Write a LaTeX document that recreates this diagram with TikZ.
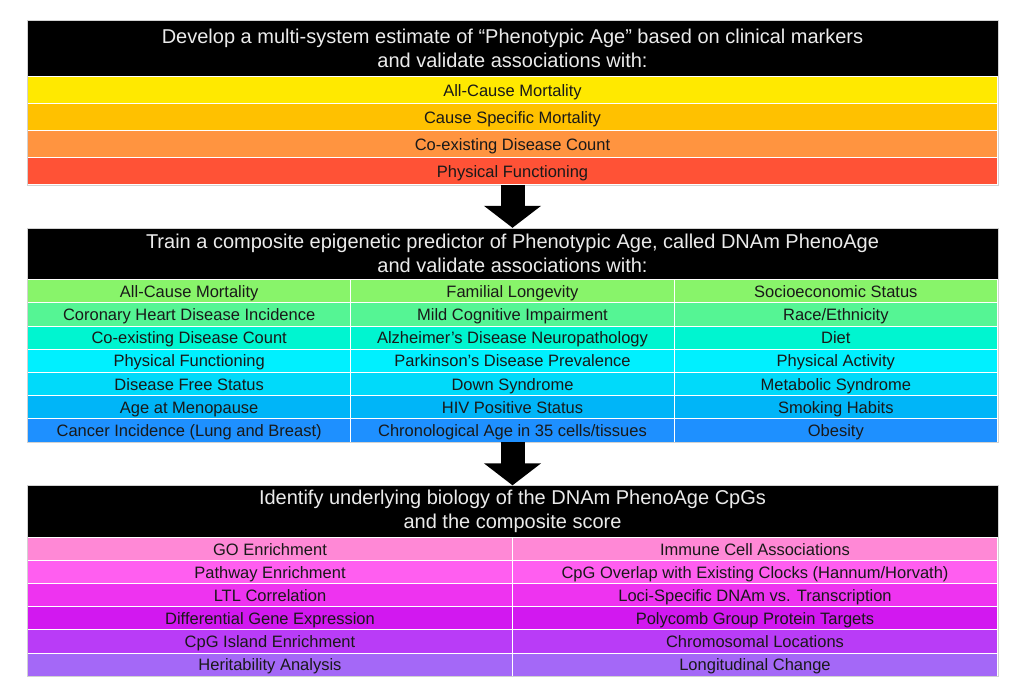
\documentclass[tikz,border=0pt]{standalone}
\usepackage{fontspec}
\setmainfont{Liberation Sans}
\usetikzlibrary{arrows.meta}

\definecolor{aYellow}{HTML}{FFE900}
\definecolor{aAmber}{HTML}{FFC100}
\definecolor{aOrange}{HTML}{FF9440}
\definecolor{aRed}{HTML}{FF5236}
\definecolor{bGreen}{HTML}{88F46A}
\definecolor{bMint}{HTML}{55F594}
\definecolor{bAqua}{HTML}{00F5D0}
\definecolor{bCyan}{HTML}{00F0FF}
\definecolor{bSky}{HTML}{00DAFA}
\definecolor{bAzure}{HTML}{00B5F8}
\definecolor{bBlue}{HTML}{1E90FF}
\definecolor{cPink}{HTML}{FF88D6}
\definecolor{cRose}{HTML}{FF5EF0}
\definecolor{cMagenta}{HTML}{EE33F0}
\definecolor{cPurple}{HTML}{D218F0}
\definecolor{cViolet}{HTML}{B93CF7}
\definecolor{cLilac}{HTML}{A468F7}

\tikzset{
  header/.style={fill=black,text=white!92!black,align=center,inner sep=0pt,
    minimum width=970pt,font=\fontsize{20}{24}\selectfont},
  cell/.style={draw=white,line width=0.7pt,inner sep=0pt,text=black!90,
    text height=14pt,text depth=1.5pt,font=\fontsize{16.5}{18}\selectfont},
  wide/.style={cell,minimum width=970pt,minimum height=27pt},
  third/.style={cell,minimum width=323.33pt,minimum height=23.2pt},
  half/.style={cell,minimum width=485pt,minimum height=23.08pt},
  frame/.style={draw=gray!35,line width=0.6pt},
  bigarrow/.style={line width=24pt,-{Triangle[width=56pt,length=22pt]}}
}

\begin{document}
\begin{tikzpicture}[x=1pt,y=-1pt]
\useasboundingbox (0,0) rectangle (1024,694);

% phenotypic age
\node[header,minimum height=56.5pt] (hA) at (512.5,48.25) {Develop a multi-system estimate of “Phenotypic Age” based on clinical markers\\and validate associations with:};
\node[wide,fill=aYellow] (a1) at (512.5,90) {All-Cause Mortality};
\node[wide,fill=aAmber]  (a2) at (512.5,117) {Cause Specific Mortality};
\node[wide,fill=aOrange] (a3) at (512.5,144) {Co-existing Disease Count};
\node[wide,fill=aRed]    (a4) at (512.5,171) {Physical Functioning};
\draw[frame] (hA.north west) rectangle (a4.south east);

% DNAm PhenoAge
\node[header,minimum height=51.5pt] (hB) at (512.5,253.75) {Train a composite epigenetic predictor of Phenotypic Age, called DNAm PhenoAge\\and validate associations with:};
\node[third,fill=bGreen] (b11) at (189.17,291.1) {All-Cause Mortality};
\node[third,fill=bGreen] (b12) at (512.5,291.1) {Familial Longevity};
\node[third,fill=bGreen] (b13) at (835.83,291.1) {Socioeconomic Status};
\node[third,fill=bMint] (b21) at (189.17,314.3) {Coronary Heart Disease Incidence};
\node[third,fill=bMint] (b22) at (512.5,314.3) {Mild Cognitive Impairment};
\node[third,fill=bMint] (b23) at (835.83,314.3) {Race/Ethnicity};
\node[third,fill=bAqua] (b31) at (189.17,337.5) {Co-existing Disease Count};
\node[third,fill=bAqua] (b32) at (512.5,337.5) {Alzheimer’s Disease Neuropathology};
\node[third,fill=bAqua] (b33) at (835.83,337.5) {Diet};
\node[third,fill=bCyan] (b41) at (189.17,360.7) {Physical Functioning};
\node[third,fill=bCyan] (b42) at (512.5,360.7) {Parkinson’s Disease Prevalence};
\node[third,fill=bCyan] (b43) at (835.83,360.7) {Physical Activity};
\node[third,fill=bSky] (b51) at (189.17,383.9) {Disease Free Status};
\node[third,fill=bSky] (b52) at (512.5,383.9) {Down Syndrome};
\node[third,fill=bSky] (b53) at (835.83,383.9) {Metabolic Syndrome};
\node[third,fill=bAzure] (b61) at (189.17,407.1) {Age at Menopause};
\node[third,fill=bAzure] (b62) at (512.5,407.1) {HIV Positive Status};
\node[third,fill=bAzure] (b63) at (835.83,407.1) {Smoking Habits};
\node[third,fill=bBlue] (b71) at (189.17,430.3) {Cancer Incidence (Lung and Breast)};
\node[third,fill=bBlue] (b72) at (512.5,430.3) {Chronological Age in 35 cells/tissues};
\node[third,fill=bBlue] (b73) at (835.83,430.3) {Obesity};
\draw[frame] (hB.north west) rectangle (b73.south east);

% biology of the CpGs
\node[header,minimum height=52pt] (hC) at (512.5,511.5) {Identify underlying biology of the DNAm PhenoAge CpGs\\and the composite score};
\node[half,fill=cPink] (c11) at (270,549.04) {GO Enrichment};
\node[half,fill=cPink] (c12) at (755,549.04) {Immune Cell Associations};
\node[half,fill=cRose] (c21) at (270,572.12) {Pathway Enrichment};
\node[half,fill=cRose] (c22) at (755,572.12) {CpG Overlap with Existing Clocks (Hannum/Horvath)};
\node[half,fill=cMagenta] (c31) at (270,595.2) {LTL Correlation};
\node[half,fill=cMagenta] (c32) at (755,595.2) {Loci-Specific DNAm vs. Transcription};
\node[half,fill=cPurple] (c41) at (270,618.28) {Differential Gene Expression};
\node[half,fill=cPurple] (c42) at (755,618.28) {Polycomb Group Protein Targets};
\node[half,fill=cViolet] (c51) at (270,641.36) {CpG Island Enrichment};
\node[half,fill=cViolet] (c52) at (755,641.36) {Chromosomal Locations};
\node[half,fill=cLilac] (c61) at (270,664.44) {Heritability Analysis};
\node[half,fill=cLilac] (c62) at (755,664.44) {Longitudinal Change};
\draw[frame] (hC.north west) rectangle (c62.south east);

\draw[bigarrow] (a4.south) -- (hB.north);
\draw[bigarrow] (b72.south) -- (hC.north);
\end{tikzpicture}
\end{document}
